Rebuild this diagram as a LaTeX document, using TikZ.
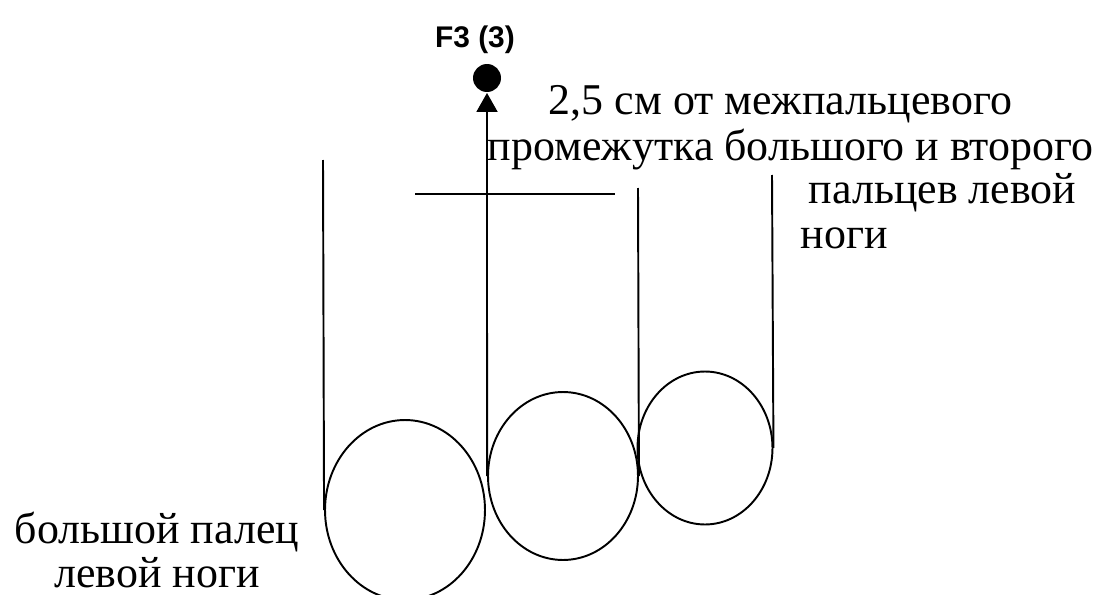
\documentclass[tikz,border=0pt]{standalone}
\usepackage{fontspec}
\setmainfont{Liberation Serif}
\newfontfamily\tagfont{Liberation Sans}
\usetikzlibrary{shapes.geometric, arrows.meta}

\begin{document}
\begin{tikzpicture}[
    x=0.02cm,
    y=-0.02cm,
    >={Triangle[width=0.42cm,length=0.38cm]},
    line width=1.1pt,
    toe/.style={ellipse, draw, inner sep=0pt, line width=1.1pt},
    note/.style={anchor=west, inner sep=0pt, font=\fontsize{25}{25}\selectfont}
]

\useasboundingbox (0,0) rectangle (1110,595);

% =================================================
% PALCY
% =================================================

\node[toe, minimum width=3.2cm, minimum height=3.6cm] (toe1) at (405,510) {};
\node[toe, minimum width=3.0cm, minimum height=3.36cm] (toe2) at (563,476) {};
\node[toe, minimum width=2.7cm, minimum height=3.06cm] (toe3) at (705,448) {};

% Vertikale Linien
\coordinate (top1) at (323,160);
\coordinate (top3) at (638,188);
\coordinate (top4) at (772,175);

\draw (toe1.west) -- (top1);
\draw (toe2.east) -- (top3);
\draw (toe3.east) -- (top4);

% Querlinie
\coordinate (crossL) at (415,194);
\coordinate (crossR) at (615,194);
\draw (crossL) -- (crossR);

% =================================================
% PUNKT F3
% =================================================

\node[
    circle,
    fill=black,
    inner sep=0pt,
    minimum size=0.56cm
] (pt) at (487,78) {};

\node[
    font=\tagfont\bfseries\fontsize{17}{17}\selectfont
] (ptlabel) at (475,40) {F3 (3)};

\draw[->] (toe2.west) -- (pt.south);

% =================================================
% TEXTE
% =================================================

\node[note] (note1) at (548,104) {2,5 см от межпальцевого};
\node[note] (note2) at (487,150) {промежутка большого и второго};
\node[note] (note3) at (808,193) {пальцев левой};
\node[note] (note4) at (800,238) {ноги};

\node[
    align=center,
    inner sep=0pt,
    font=\fontsize{25}{25}\selectfont
] (thumb) at (157,550) {большой палец\\левой ноги};

\end{tikzpicture}
\end{document}
